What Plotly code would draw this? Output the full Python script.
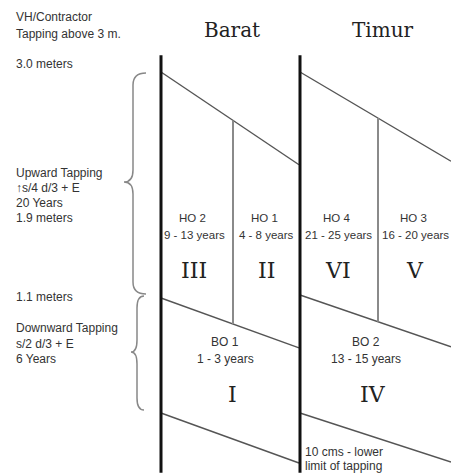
import plotly.graph_objects as go

# ---------------- data (heights in meters on the tree trunk) ----------------
sides = ["Barat", "Timur"]
top_cut_left = [3.0, 3.0]          # upper limit of tapping panel (left end)
top_cut_right = [2.22, 2.25]       # same cut, right end (slanted)
mid_cut_left = [1.10, 1.125]       # change-over height 1.1 m
mid_cut_right = [0.68, 0.69]
low_cut_left = [0.133, 0.133]      # 10 cms lower limit region
low_cut_right = [-0.287, -0.279]
trunk_top = 3.14
trunk_bottom = -0.37

upper_names = [["HO 2", "HO 1"], ["HO 4", "HO 3"]]
upper_years = [["9 - 13 years", "4 - 8 years"], ["21 - 25 years", "16 - 20 years"]]
upper_roman = [["III", "II"], ["VI", "V"]]
lower_names = ["BO 1", "BO 2"]
lower_years = ["1 - 3 years", "13 - 15 years"]
lower_roman = ["I", "IV"]

left_notes_top = ["VH/Contractor", "Tapping above 3 m."]
height_labels = ["3.0 meters", "1.1 meters"]
upward_notes = ["Upward Tapping", "\u2191s/4 d/3 + E", "20 Years", "1.9 meters"]
downward_notes = ["Downward Tapping", "s/2 d/3 + E", "6 Years"]
bottom_note = ["10 cms - lower", "limit of tapping"]

# ---------------- layout constants (pixels) ----------------
W, H = 451, 475
PX_PER_M = 118.95
Y0_PX = 72.0  # pixel row of the 3.0 m mark


def m_at(px):
    return 3.0 - (px - Y0_PX) / PX_PER_M


trunk_x = [161, 300]
right_x = [299, 451]
divider_x = [233, 378]

SANS = "Liberation Sans, Arial, sans-serif"
SERIF = "DejaVu Serif, serif"
TXT = "#333333"

fig = go.Figure()


def line(xs, ys, color, width):
    fig.add_trace(go.Scatter(x=xs, y=ys, mode="lines",
                             line=dict(color=color, width=width),
                             hoverinfo="skip", showlegend=False))


def interp(x, x0, y0, x1, y1):
    return y0 + (y1 - y0) * (x - x0) / (x1 - x0)


for i in range(len(sides)):
    x0, x1 = trunk_x[i], right_x[i]
    line([x0, x1], [top_cut_left[i], top_cut_right[i]], "#555555", 1.4)
    line([x0, x1], [mid_cut_left[i], mid_cut_right[i]], "#555555", 1.4)
    line([x0, x1], [low_cut_left[i], low_cut_right[i]], "#555555", 1.4)
    xd = divider_x[i]
    yd_top = interp(xd, x0, top_cut_left[i], x1, top_cut_right[i])
    yd_bot = interp(xd, x0, mid_cut_left[i], x1, mid_cut_right[i])
    line([xd, xd], [yd_top, yd_bot], "#8a8a8a", 2)

for i in range(len(sides)):
    line([trunk_x[i], trunk_x[i]], [trunk_top, trunk_bottom], "#111111", 3)


# ---------------- braces ----------------
def brace(xv, xtip, xend, ytop_px, ymid_px, ybot_px, r=12):
    p = lambda x, y: f"{x},{m_at(y)}"
    return (f"M {p(xend, ytop_px)} Q {p(xv, ytop_px)} {p(xv, ytop_px + r)} "
            f"L {p(xv, ymid_px - r)} Q {p(xv, ymid_px)} {p(xtip, ymid_px)} "
            f"Q {p(xv, ymid_px)} {p(xv, ymid_px + r)} "
            f"L {p(xv, ybot_px - r)} Q {p(xv, ybot_px)} {p(xend, ybot_px)}")


def px_of(m):
    return Y0_PX + (3.0 - m) * PX_PER_M


shapes = [
    dict(type="path", xref="x", yref="y",
         path=brace(133, 124, 146, px_of(top_cut_left[0]) + 1, 182, px_of(mid_cut_left[0]) - 4),
         line=dict(color="#888888", width=1.5)),
    dict(type="path", xref="x", yref="y",
         path=brace(137, 131, 144, px_of(mid_cut_left[0]) - 2, 352, px_of(low_cut_left[0]) - 3),
         line=dict(color="#888888", width=1.5)),
]

# ---------------- text ----------------
ann = []


def text(s, x, y, size=12, family=SANS, anchor="center", color=TXT):
    ann.append(dict(text=s, x=x / W, y=1 - y / H, xref="paper", yref="paper",
                    xanchor=anchor, yanchor="middle", showarrow=False,
                    font=dict(family=family, size=size, color=color)))


for k, s in enumerate(left_notes_top):
    text(s, 14, 17 + 17 * k, anchor="left")
text(height_labels[0], 14, 64, anchor="left")
for k, s in enumerate(upward_notes):
    text(s, 14, 173 + 15 * k, anchor="left")
text(height_labels[1], 14, 297, anchor="left")
for k, s in enumerate(downward_notes):
    text(s, 14, 328 + 15.5 * k, anchor="left")

header_x = [232, 383]
for i, s in enumerate(sides):
    text(s, header_x[i], 30, size=20, family=SERIF, color="#222222")

upper_x = [[192, 264], [336, 413]]
for i in range(2):
    for j in range(2):
        text(upper_names[i][j], upper_x[i][j], 218, size=11.5)
        text(upper_years[i][j], upper_x[i][j] + 2, 235, size=11.5)
        text(upper_roman[i][j], upper_x[i][j] + 2, 270, size=22, family=SERIF, color="#222222")

lower_x = [225, 366]
roman_x = [232, 373]
for i in range(2):
    text(lower_names[i], lower_x[i], 342)
    text(lower_years[i], lower_x[i], 359)
    text(lower_roman[i], roman_x[i], 394, size=22, family=SERIF, color="#222222")

text(bottom_note[0], 303, 452, anchor="left")
text(bottom_note[1], 303, 466, anchor="left")

fig.update_layout(
    width=W, height=H,
    margin=dict(l=0, r=0, t=0, b=0),
    paper_bgcolor="white", plot_bgcolor="white",
    xaxis=dict(range=[0, W], visible=False, fixedrange=True),
    yaxis=dict(range=[m_at(H), m_at(0)], visible=False, fixedrange=True),
    shapes=shapes, annotations=ann, showlegend=False,
)

fig.write_html("out.html", config={"displayModeBar": False},
               post_script="document.body.style.margin='0';document.body.style.overflow='hidden';")
